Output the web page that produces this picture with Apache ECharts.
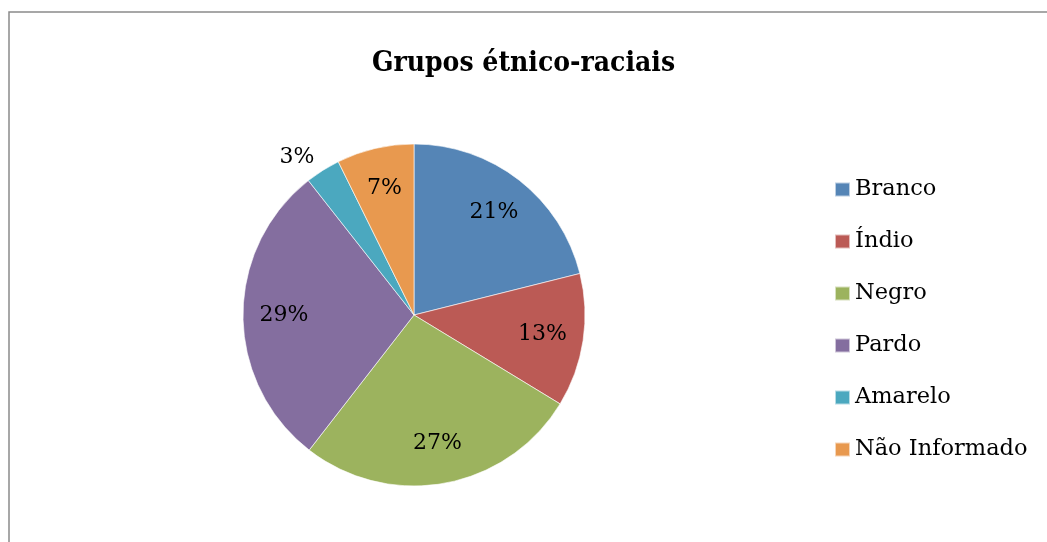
<!DOCTYPE html>
<html>
<head>
<meta charset="utf-8">
<script src="https://cdn.jsdelivr.net/npm/echarts@6/dist/echarts.min.js"></script>
<style>
html,body{margin:0;padding:0;background:#fff;}
#chart{width:1047px;height:542px;}
</style>
</head>
<body>
<div id="chart"></div>
<script>
const titleText = 'Grupos étnico-raciais';
const categories = ['Branco', 'Índio', 'Negro', 'Pardo', 'Amarelo', 'Não Informado'];
const values = [21.1, 12.6, 26.8, 28.9, 3.3, 7.3];
const colors = ['#5585B6', '#BB5A55', '#9CB35E', '#846E9F', '#4BA8BF', '#E8994F'];
const outsideLabelCategories = ['Amarelo'];

const serifCond = "'DejaVu Serif Condensed', 'DejaVu Serif', serif";
const serif = "'DejaVu Serif', serif";
const chart = echarts.init(document.getElementById('chart'));

const mainData = categories.map((c, i) => ({ name: c, value: values[i], itemStyle: { color: colors[i] } }));
const labelData = categories.map((c, i) => {
  const d = { name: c, value: values[i] };
  if (outsideLabelCategories.includes(c)) {
    d.label = { position: 'outside', distanceToLabelLine: 0 };
    d.labelLine = { show: false, length: 16, length2: 0 };
  }
  return d;
});

chart.setOption({
  animation: false,
  graphic: [{
    type: 'rect',
    shape: { x: 9, y: 12, width: 1200, height: 700 },
    style: { fill: 'none', stroke: '#8a8a8a', lineWidth: 1.5 },
    silent: true
  }],
  title: {
    text: titleText,
    left: 'center',
    top: 45,
    textStyle: { fontFamily: serifCond, fontWeight: 'bold', fontSize: 28, color: '#000' }
  },
  legend: {
    orient: 'vertical',
    left: 829,
    top: 173,
    itemWidth: 15,
    itemHeight: 14,
    itemGap: 29,
    icon: 'rect',
    data: categories,
    textStyle: { fontFamily: serif, fontSize: 22.5, color: '#000', lineHeight: 23 }
  },
  series: [
    {
      type: 'pie',
      silent: true,
      center: [414, 315],
      radius: [0, 171],
      startAngle: 90,
      clockwise: true,
      avoidLabelOverlap: false,
      label: { show: false },
      labelLine: { show: false },
      itemStyle: { borderColor: 'rgba(255,255,255,0.6)', borderWidth: 1 },
      data: mainData
    },
    {
      type: 'pie',
      silent: true,
      center: [414, 315],
      radius: [83, 171],
      startAngle: 90,
      clockwise: true,
      avoidLabelOverlap: false,
      percentPrecision: 0,
      itemStyle: { color: 'rgba(0,0,0,0)', borderWidth: 0 },
      label: {
        show: true,
        position: 'inside',
        formatter: '{d}%',
        fontFamily: serif,
        fontSize: 22,
        color: '#000'
      },
      labelLine: { show: false },
      data: labelData
    }
  ]
});
</script>
</body>
</html>
